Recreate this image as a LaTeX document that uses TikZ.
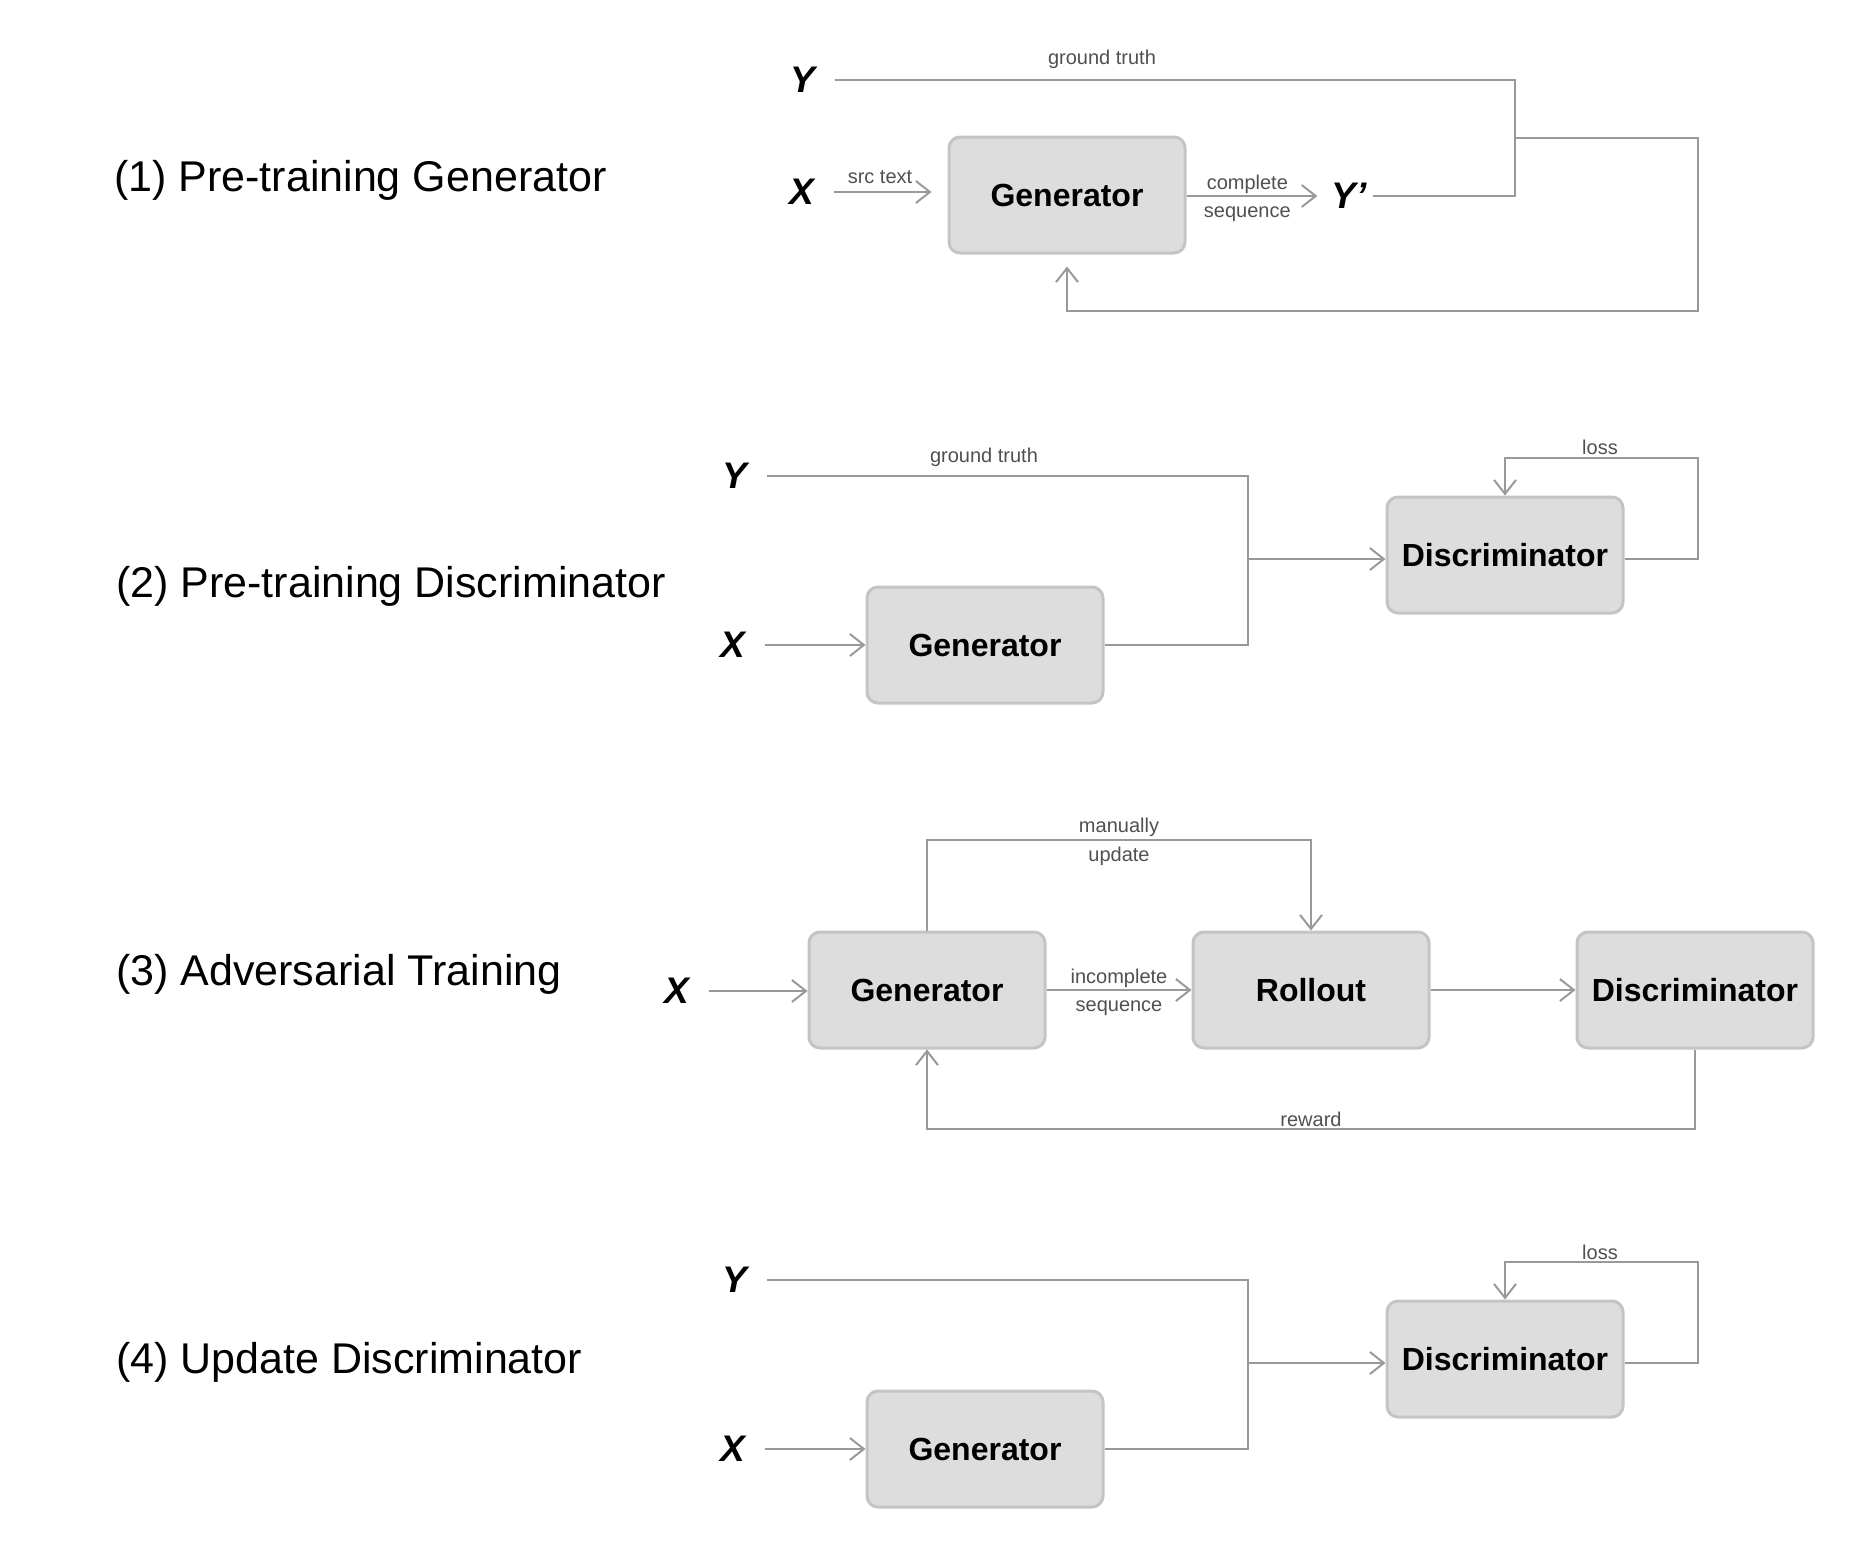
\documentclass[tikz,border=0pt]{standalone}
\usepackage{fontspec}
\setmainfont{Liberation Sans}
\usetikzlibrary{arrows.meta}
\definecolor{linec}{HTML}{999999}
\definecolor{boxfill}{HTML}{DDDDDD}
\definecolor{boxdraw}{HTML}{C4C4C4}
\definecolor{labc}{HTML}{505050}
\tikzset{
  blk/.style={draw=boxdraw, line width=3pt, fill=boxfill, rounded corners=11pt,
    minimum width=236pt, minimum height=116pt, inner sep=0pt,
    font=\fontsize{32}{38}\selectfont\bfseries},
  var/.style={inner sep=0pt, font=\fontsize{37}{44}\selectfont\bfseries\itshape},
  ttl/.style={anchor=west, inner sep=0pt, font=\fontsize{43}{51}\selectfont},
  small/.style={inner sep=0pt, text=labc, font=\fontsize{20}{24}\selectfont},
  conn/.style={draw=linec, line width=2pt},
  arr/.style={conn, -{Straight Barb[length=14pt,width=22pt]}},
}
\begin{document}
\begin{tikzpicture}[x=1pt,y=-1pt]
\useasboundingbox (0,0) rectangle (1862,1560);

% ---------- (1) ----------
\node[ttl] (t1) at (114,180) {(1) Pre-training Generator};
\node[var] (Y1) at (803,80) {Y};
\node[var] (X1) at (802,192) {X};
\node[blk] (G1) at (1067,195) {Generator};
\node[var] (Yp) at (1349,196) {Y’};
\coordinate (j1) at (1515,138);
\coordinate (c1) at (1698,311);
\draw[conn, shorten <=19pt] (Y1.east) -| (j1) |- ([xshift=6pt]Yp.east);
\node[small] (gt1) at (1102,59) {ground truth};
\draw[arr, shorten <=19pt, shorten >=16pt] (X1.east) -- (X1.east -| G1.west);
\node[small] (src) at (880,177) {src text};
\draw[arr, shorten >=14pt] (G1.east |- Yp.west) -- (Yp.west)
  node[pos=0.42, small, above=1pt] (cs1) {complete}
  node[pos=0.42, small, below=10pt] (cs2) {sequence};
\draw[arr, shorten >=12pt] (j1) -| (c1) -| (G1.south);

% ---------- (2) ----------
\node[ttl] (t2) at (116,586) {(2) Pre-training Discriminator};
\node[var] (Y2) at (735,476) {Y};
\node[var] (X2) at (733,645) {X};
\node[blk] (G2) at (985,645) {Generator};
\node[blk] (D2) at (1505,555) {Discriminator};
\coordinate (j2) at (1248,559);
\coordinate (l2) at (1698,458);
\draw[conn, shorten <=19pt] (Y2.east) -| (j2);
\node[small] (gt2) at (984,457) {ground truth};
\draw[arr, shorten <=19pt] (X2.east) -- (G2.west);
\draw[conn] (G2.east) -| (j2);
\draw[arr] (j2) -- (j2 -| D2.west);
\draw[arr] (D2.east |- j2) -| (l2) -| (D2.north);
\node[small] (loss2) at (1600,447) {loss};

% ---------- (3) ----------
\node[ttl] (t3) at (116,974) {(3) Adversarial Training};
\node[var] (X3) at (677,991) {X};
\node[blk] (G3) at (927,990) {Generator};
\node[blk] (R3) at (1311,990) {Rollout};
\node[blk] (D3) at (1695,990) {Discriminator};
\coordinate (mu) at (1119,840);
\coordinate (rw) at (1311,1129);
\draw[arr, shorten <=19pt] (X3.east) -- (X3.east -| G3.west);
\draw[arr] (G3.east) -- (R3.west)
  node[midway, small, above=1pt] (ic1) {incomplete}
  node[midway, small, below=10pt] (ic2) {sequence};
\draw[arr] (R3.east) -- (D3.west);
\draw[arr] (G3.north) |- (mu) -| (R3.north);
\node[small] (mu1) at (1119,827) {manually};
\node[small] (mu2) at (1119,856) {update};
\draw[arr] (D3.south) |- (rw) -| (G3.south);
\node[small] (rwl) at (1311,1119) {reward};

% ---------- (4) ----------
\node[ttl] (t4) at (116,1362) {(4) Update Discriminator};
\node[var] (Y4) at (735,1280) {Y};
\node[var] (X4) at (733,1449) {X};
\node[blk] (G4) at (985,1449) {Generator};
\node[blk] (D4) at (1505,1359) {Discriminator};
\coordinate (j4) at (1248,1363);
\coordinate (l4) at (1698,1262);
\draw[conn, shorten <=19pt] (Y4.east) -| (j4);
\draw[arr, shorten <=19pt] (X4.east) -- (G4.west);
\draw[conn] (G4.east) -| (j4);
\draw[arr] (j4) -- (j4 -| D4.west);
\draw[arr] (D4.east |- j4) -| (l4) -| (D4.north);
\node[small] (loss4) at (1600,1252) {loss};
\end{tikzpicture}
\end{document}
